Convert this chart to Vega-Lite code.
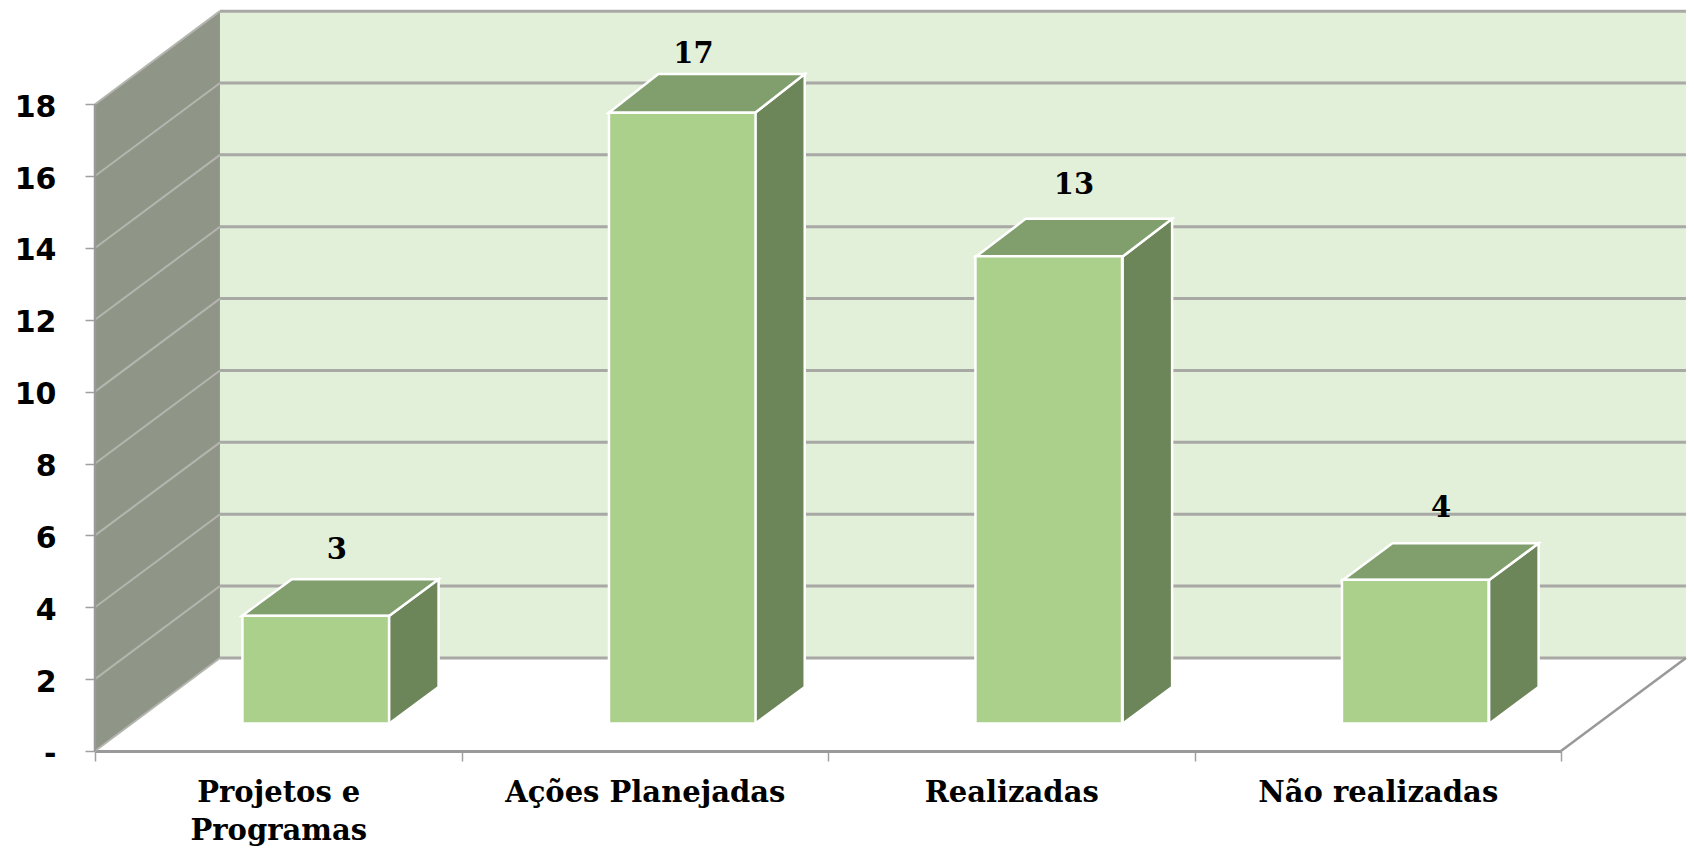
{
"$schema":"https://vega.github.io/schema/vega-lite/v6.json",
"width":1599,"height":751,"autosize":"none",
"padding":{"left":95,"top":0,"right":0,"bottom":98},
"background":"white",
"config":{"view":{"stroke":null}},
"datasets":{
"acoes":[{"categoria":"Projetos e Programas","valor":3},{"categoria":"Ações Planejadas","valor":17},{"categoria":"Realizadas","valor":13},{"categoria":"Não realizadas","valor":4}],
"rotulos":[{"valor":3,"px":0.66,"py":5.6},{"valor":17,"px":1.633,"py":19.41},{"valor":13,"px":2.671,"py":15.76},{"valor":4,"px":3.673,"py":6.76}],
"parede_lateral":[{"px":0,"py":18,"py2":0},{"px":0.341,"py":20.59,"py2":2.59}],
"parede_fundo":[{"px":0.341,"px2":4.341,"py":20.59,"py2":2.59}],
"grade_fundo":[{"py":2.59},{"py":4.59},{"py":6.59},{"py":8.59},{"py":10.59},{"py":12.59},{"py":14.59},{"py":16.59},{"py":18.59},{"py":20.59}],
"grade_lateral":[
{"k":2,"px":0,"py":2},{"k":2,"px":0.341,"py":4.59},
{"k":4,"px":0,"py":4},{"k":4,"px":0.341,"py":6.59},
{"k":6,"px":0,"py":6},{"k":6,"px":0.341,"py":8.59},
{"k":8,"px":0,"py":8},{"k":8,"px":0.341,"py":10.59},
{"k":10,"px":0,"py":10},{"k":10,"px":0.341,"py":12.59},
{"k":12,"px":0,"py":12},{"k":12,"px":0.341,"py":14.59},
{"k":14,"px":0,"py":14},{"k":14,"px":0.341,"py":16.59},
{"k":16,"px":0,"py":16},{"k":16,"px":0.341,"py":18.59},
{"k":18,"px":0,"py":18},{"k":18,"px":0.341,"py":20.59},
{"k":0,"px":0,"py":0},{"k":0,"px":0.341,"py":2.59}],
"borda":[{"k":"esq","px":0,"py":0},{"k":"esq","px":0,"py":18},{"k":"dir","px":4,"py":0},{"k":"dir","px":4.341,"py":2.59}],
"laterais":[
{"b":0,"px":0.802,"py":3.76,"py2":0.76},{"b":0,"px":0.9375,"py":4.78,"py2":1.78},
{"b":1,"px":1.801,"py":17.76,"py2":0.76},{"b":1,"px":1.9365,"py":18.84,"py2":1.78},
{"b":2,"px":2.804,"py":13.76,"py2":0.76},{"b":2,"px":2.939,"py":14.81,"py2":1.78},
{"b":3,"px":3.804,"py":4.76,"py2":0.76},{"b":3,"px":3.939,"py":5.78,"py2":1.78}],
"topos":[
{"b":0,"py":3.76,"px":0.401,"px2":0.802},{"b":0,"py":4.78,"px":0.537,"px2":0.9375},
{"b":1,"py":17.76,"px":1.402,"px2":1.801},{"b":1,"py":18.84,"px":1.537,"px2":1.9365},
{"b":2,"py":13.76,"px":2.404,"px2":2.804},{"b":2,"py":14.81,"px":2.539,"px2":2.939},
{"b":3,"py":4.76,"px":3.405,"px2":3.804},{"b":3,"py":5.78,"px":3.54,"px2":3.939}]
},
"resolve":{"scale":{"x":"independent"},"axis":{"x":"independent"}},
"layer":[
{"data":{"name":"parede_lateral"},
 "mark":{"type":"area","color":"#8F9687"},
 "encoding":{
  "x":{"field":"px","type":"quantitative","scale":{"domain":[0,4.363],"nice":false,"zero":false},"axis":null},
  "y":{"field":"py","type":"quantitative","scale":{"domain":[0,20.9],"nice":false},"title":null,
   "axis":{"values":[0,2,4,6,8,10,12,14,16,18],"grid":false,"domain":false,"tickSize":10,"tickColor":"#A0A0A0","tickWidth":1.5,"labelPadding":29,"labelOffset":3,
    "labelExpr":"datum.value === 0 ? '-\u2003' : datum.label","labelFont":"DejaVu Sans","labelFontWeight":"bold","labelFontSize":30,"labelColor":"#000000"}},
  "y2":{"field":"py2"}}},
{"data":{"name":"parede_fundo"},
 "mark":{"type":"rect","color":"#E2EFD9"},
 "encoding":{
  "x":{"field":"px","type":"quantitative","scale":{"domain":[0,4.363],"nice":false,"zero":false},"axis":null},
  "x2":{"field":"px2"},
  "y":{"field":"py","type":"quantitative","title":null},
  "y2":{"field":"py2"}}},
{"data":{"name":"grade_fundo"},
 "mark":{"type":"rule","color":"#A8A8A4","strokeWidth":3},
 "encoding":{
  "x":{"datum":0.341,"type":"quantitative","scale":{"domain":[0,4.363],"nice":false,"zero":false},"axis":null},
  "x2":{"datum":4.341},
  "y":{"field":"py","type":"quantitative","title":null}}},
{"data":{"name":"grade_lateral"},
 "mark":{"type":"line","color":"#B4B5AF","strokeWidth":2},
 "encoding":{
  "x":{"field":"px","type":"quantitative","scale":{"domain":[0,4.363],"nice":false,"zero":false},"axis":null},
  "y":{"field":"py","type":"quantitative","title":null},
  "detail":{"field":"k"}}},
{"data":{"name":"borda"},
 "mark":{"type":"line","color":"#999999","strokeWidth":2.5},
 "encoding":{
  "x":{"field":"px","type":"quantitative","scale":{"domain":[0,4.363],"nice":false,"zero":false},"axis":null},
  "y":{"field":"py","type":"quantitative","title":null},
  "detail":{"field":"k"}}},
{"data":{"name":"laterais"},
 "mark":{"type":"area","color":"#6C8559","stroke":"white","strokeWidth":2.5},
 "encoding":{
  "x":{"field":"px","type":"quantitative","scale":{"domain":[0,4.363],"nice":false,"zero":false},"axis":null},
  "y":{"field":"py","type":"quantitative","title":null},
  "y2":{"field":"py2"},
  "detail":{"field":"b"}}},
{"data":{"name":"topos"},
 "mark":{"type":"area","orient":"horizontal","color":"#809F6D","stroke":"white","strokeWidth":2.5},
 "encoding":{
  "y":{"field":"py","type":"quantitative","title":null},
  "x":{"field":"px","type":"quantitative","scale":{"domain":[0,4.363],"nice":false,"zero":false},"axis":null},
  "x2":{"field":"px2"},
  "detail":{"field":"b"}}},
{"data":{"name":"acoes"},
 "mark":{"type":"bar","color":"#ABD08C","stroke":"white","strokeWidth":2.5,"xOffset":37.5,"yOffset":-27.5,"y2Offset":-27.5,"width":{"band":0.4}},
 "encoding":{
  "x":{"field":"categoria","type":"nominal","sort":null,"title":null,
   "scale":{"range":[0,1466],"paddingInner":0,"paddingOuter":0},
   "axis":{"labelAngle":0,"tickBand":"extent","tickSize":10,"tickColor":"#A0A0A0","tickWidth":1.5,"domainColor":"#9A9A9A","domainWidth":3,"labelPadding":17,"labelLimit":0,
    "labelExpr":"datum.label == 'Projetos e Programas' ? ['Projetos e','Programas'] : datum.label","labelFont":"DejaVu Serif","labelFontWeight":"bold","labelFontSize":29,"labelLineHeight":38,"labelColor":"#000000"}},
  "y":{"field":"valor","type":"quantitative","title":null},
  "y2":{"datum":0}}},
{"data":{"name":"rotulos"},
 "mark":{"type":"text","font":"DejaVu Serif","fontWeight":"bold","fontSize":29,"color":"#000000","align":"center","baseline":"middle"},
 "encoding":{
  "x":{"field":"px","type":"quantitative","scale":{"domain":[0,4.363],"nice":false,"zero":false},"axis":null},
  "y":{"field":"py","type":"quantitative","title":null},
  "text":{"field":"valor","type":"quantitative"}}}
]
}
